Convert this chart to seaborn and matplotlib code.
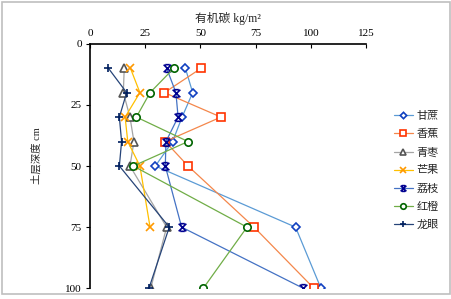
import numpy as np
import pandas as pd
import matplotlib
matplotlib.use("Agg")
import matplotlib.pyplot as plt
import seaborn as sns
from matplotlib.path import Path
from matplotlib.patches import Rectangle

depth = [10, 20, 30, 40, 50, 75, 100]
names = ["甘蔗", "香蕉", "青枣", "芒果", "荔枝", "红橙", "龙眼"]
ganzhe = [43.2, 46.5, 41.7, 37.4, 29.6, 93.1, 104.6]
xiangjiao = [50.4, 33.7, 59.3, 34.1, 44.4, 74.3, 101.4]
qingzao = [15.5, 15.1, 18.1, 19.9, 18.1, 34.7, 27.5]
mangguo = [18.3, 22.6, 15.9, 17.1, 22.6, 27.2, np.nan]
lizhi = [34.7, 38.9, 39.9, 34.4, 34.1, 41.5, 96.6]
hongcheng = [38.0, 27.2, 21.0, 44.4, 19.6, 71.1, 51.3]
longyan = [8.3, 16.6, 13.3, 14.3, 13.3, 35.9, 26.7]
series = [ganzhe, xiangjiao, qingzao, mangguo, lizhi, hongcheng, longyan]
x_ticks = [0, 25, 50, 75, 100, 125]
y_ticks = [0, 25, 50, 75, 100]

sns.set_theme(style="white")
FAM = ["Liberation Serif", "Noto Sans CJK SC"]
plt.rcParams["font.family"] = FAM

star = Path(
    [(-1, -1), (1, 1), (-1, 1), (1, -1), (-0.6, 1), (0.6, 1), (-0.6, -1), (0.6, -1)],
    [Path.MOVETO, Path.LINETO, Path.MOVETO, Path.LINETO,
     Path.MOVETO, Path.LINETO, Path.MOVETO, Path.LINETO],
)

styles = [
    dict(line="#5B9BD5", edge="#1040C0", marker="D", ms=4.3),
    dict(line="#F4874B", edge="#FF3300", marker="s", ms=5.3),
    dict(line="#A5A5A5", edge="#555555", marker="^", ms=5.3),
    dict(line="#FFC000", edge="#FF9900", marker="x", ms=5.3),
    dict(line="#4472C4", edge="#000090", marker=star, ms=5.5),
    dict(line="#70AD47", edge="#006400", marker="o", ms=5.3),
    dict(line="#264478", edge="#001F5F", marker="+", ms=6.3),
]

fig = plt.figure(figsize=(4.52, 2.99), dpi=100)
fig.patch.set_facecolor("white")
ax = fig.add_axes([90 / 452, 1 - 288.3 / 299, 276 / 452, 244.6 / 299])

for name, vals, st in zip(names, series, styles):
    df = pd.DataFrame({"x": vals, "depth": depth}).dropna()
    sns.lineplot(data=df, x="x", y="depth", orient="y", ax=ax, color=st["line"],
                 lw=0.9, marker=st["marker"], ms=st["ms"], mec=st["edge"],
                 mfc="white", mew=1.2, label=name, legend=False)

ax.set_xlim(0, 125)
ax.set_ylim(100, 0)
ax.set_xticks(x_ticks)
ax.set_yticks(y_ticks)
ax.xaxis.tick_top()
ax.xaxis.set_label_position("top")
for s in ["right", "bottom"]:
    ax.spines[s].set_visible(False)
for s in ["left", "top"]:
    ax.spines[s].set_color("black")
    ax.spines[s].set_linewidth(1.2)
ax.tick_params(axis="x", direction="in", length=3, width=0.8, pad=4, labelsize=8,
               colors="black", top=True, bottom=False)
ax.tick_params(axis="y", direction="out", length=3, width=0.8, pad=3, labelsize=8,
               colors="black", left=True)
ax.grid(False)
ax.set_xlabel("有机碳 kg/m²", fontsize=8.5, family=FAM, labelpad=5)
ax.set_ylabel("土层深度 cm", fontsize=7.5, family=FAM)
ax.yaxis.set_label_coords((42 - 90) / 276, (288.3 - 156) / 244.6)

handles, labels = ax.get_legend_handles_labels()
fig.legend(handles, labels, loc="upper left", frameon=False,
           bbox_to_anchor=(394 / 452, 1 - 111 / 299), prop={"family": FAM, "size": 8},
           handlelength=1.7, handletextpad=0.35, labelspacing=0.72, borderpad=0,
           borderaxespad=0, markerscale=0.75)

fig.patches.append(Rectangle((2 / 452, 1 - 294 / 299), 448 / 452, 292 / 299,
                             transform=fig.transFigure, fill=False,
                             edgecolor="#BFBFBF", lw=1.2))

fig.savefig("out.png", dpi=100)
